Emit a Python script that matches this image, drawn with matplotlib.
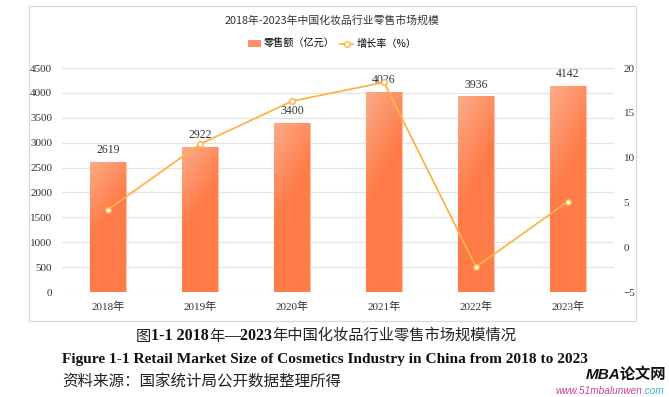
import matplotlib.pyplot as plt
import numpy as np
from matplotlib.lines import Line2D
from matplotlib.patches import Patch, Rectangle

# data
years = ["2018年", "2019年", "2020年", "2021年", "2022年", "2023年"]
sales = [2619, 2922, 3400, 4026, 3936, 4142]          # 零售额（亿元）
growth = [4.2, 11.5, 16.3, 18.4, -2.2, 5.1]           # 增长率（%）
left_ticks = [0, 500, 1000, 1500, 2000, 2500, 3000, 3500, 4000, 4500]
right_ticks = [-5, 0, 5, 10, 15, 20]

CJK = ["Noto Sans CJK SC", "DejaVu Sans"]
SERIF_CJK = ["Liberation Serif", "Noto Sans CJK SC"]
LINE_COLOR = "#FFB347"
W, H = 669, 397

fig = plt.figure(figsize=(W / 100, H / 100), dpi=100)
ax = fig.add_axes([62 / W, 1 - 292 / H, 552 / W, 224 / H])

# bars with a diagonal light-to-orange gradient
x = np.arange(len(years))
bars = ax.bar(x, sales, width=0.39, color="#FF7B47", edgecolor="#FDC4AA",
              linewidth=0.8, zorder=2)

gy, gx = np.mgrid[0:1:200j, 0:1:60j]
t = np.clip((gy * 1.0 + gx * 0.35) / 0.6, 0, 1)[..., None]
light = np.array([252, 172, 138]) / 255
dark = np.array([255, 123, 71]) / 255
grad = light * (1 - t) + dark * t
for b in bars:
    im = ax.imshow(grad, extent=[b.get_x(), b.get_x() + b.get_width(), 0, b.get_height()],
                   origin="upper", aspect="auto", zorder=2.5)
    im.set_clip_path(b)

for xi, v in zip(x, sales):
    ax.text(xi, v + 110, str(v), ha="center", va="bottom", fontsize=8.5,
            family=SERIF_CJK, color="#333333")

ax.set_xlim(-0.5, len(years) - 0.5)
ax.set_ylim(0, 4500)
ax.set_yticks(left_ticks)
ax.set_xticks(x)
ax.set_xticklabels(years)
ax.grid(axis="y", color="#E4E4E4", linewidth=0.9, zorder=0)
ax.set_axisbelow(True)
for s in ax.spines.values():
    s.set_visible(False)
ax.tick_params(length=0, labelsize=8, labelcolor="#333333", pad=7)
for lab in ax.get_xticklabels() + ax.get_yticklabels():
    lab.set_family(SERIF_CJK)

# growth rate line on the right axis
ax2 = ax.twinx()
ax2.plot(x, growth, color=LINE_COLOR, linewidth=1.3, marker="o", markersize=4,
         markerfacecolor="white", markeredgecolor=LINE_COLOR, markeredgewidth=1.1, zorder=3)
ax2.set_ylim(-5, 20)
ax2.set_yticks(right_ticks)
for s in ax2.spines.values():
    s.set_visible(False)
ax2.tick_params(length=0, labelsize=8, labelcolor="#333333", pad=7)
for lab in ax2.get_yticklabels():
    lab.set_family(SERIF_CJK)

# chart frame, title and legend
fig.patches.append(Rectangle((29 / W, 1 - 321 / H), 607 / W, 315 / H, transform=fig.transFigure,
                             facecolor="none", edgecolor="#D9D9D9", linewidth=0.9))
fig.text(332 / W, 1 - 20 / H, "2018年-2023年中国化妆品行业零售市场规模", ha="center", va="center",
         fontsize=7.8, family=CJK, color="#333333")
handles = [Patch(facecolor="#FD9068", edgecolor="none"),
           Line2D([], [], color=LINE_COLOR, linewidth=1.3, marker="o", markersize=4,
                  markerfacecolor="white", markeredgecolor=LINE_COLOR)]
fig.legend(handles, ["零售额（亿元）", "增长率（%）"], loc="center", ncol=2,
           bbox_to_anchor=(332 / W, 1 - 44 / H), frameon=False, handlelength=1.3,
           handletextpad=0.3, columnspacing=0.5, prop={"family": CJK, "size": 7.3})


def draw_runs(runs, y, x_center=None, x_right=None):
    """Place text runs side by side on one line."""
    texts = [fig.text(0, y, s, va="center", **kw) for s, kw in runs]
    fig.canvas.draw()
    r = fig.canvas.get_renderer()
    widths = [tx.get_window_extent(r).width for tx in texts]
    pos = x_right - sum(widths) if x_right is not None else x_center - sum(widths) / 2
    for tx, w in zip(texts, widths):
        tx.set_x(pos / W)
        pos += w


song = {"family": CJK, "fontsize": 11, "color": "#222222", "weight": "light"}
times_b = {"family": ["Liberation Serif"], "fontsize": 11.5, "weight": "bold", "color": "#111111"}
draw_runs([("图", song), ("1-1 2018", times_b), ("年", song), ("—2023", times_b),
           ("年中国化妆品行业零售市场规模情况", song)], 1 - 336 / H, x_center=326)

fig.text(62 / W, 1 - 360 / H,
         "Figure 1-1 Retail Market Size of Cosmetics Industry in China from 2018 to 2023",
         va="center", ha="left", fontsize=11.1, weight="bold", family=["Liberation Serif"],
         color="#111111")
fig.text(62 / W, 1 - 381 / H, "资料来源：国家统计局公开数据整理所得", va="center", ha="left",
         fontsize=11.2, family=CJK, weight="light", color="#222222")

# watermark
fig.text(666 / W, 1 - 374 / H, "MBA论文网", ha="right", va="center", fontsize=11,
         weight="bold", style="italic", family=["Liberation Sans", "Noto Sans CJK SC"],
         color="#111111")
draw_runs([("www.51mbalunwen", {"family": ["Liberation Sans"], "fontsize": 7.2,
                                "style": "italic", "color": "#C8409A"}),
           (".com", {"family": ["Liberation Sans"], "fontsize": 7.2,
                     "style": "italic", "color": "#3AB6C8"})],
          1 - 391 / H, x_right=664)

fig.savefig("out.png", dpi=100)
